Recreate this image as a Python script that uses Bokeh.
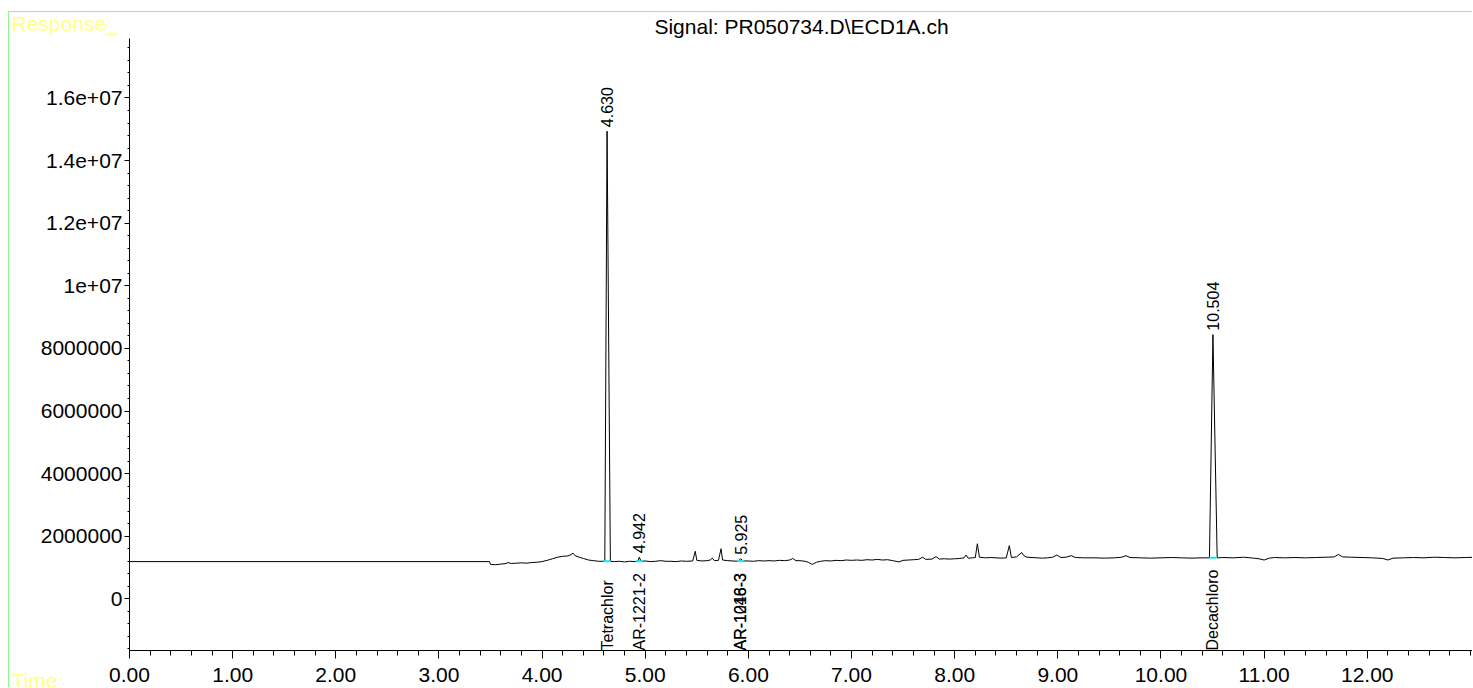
import math
from bokeh.plotting import figure
from bokeh.models import Title, FixedTicker, ColumnDataSource, Range1d
from bokeh.core.properties import value
from bokeh.embed import file_html
from bokeh.resources import INLINE

# ---------------- data ----------------
title_text = "Signal: PR050734.D\\ECD1A.ch"
y_axis_name = "Response_"
x_axis_name = "Time"

time = [0.00, 3.49, 3.50, 3.55, 3.60, 3.65, 3.67, 3.70, 3.75, 3.80, 3.85, 3.90, 3.95,
        4.00, 4.05, 4.10, 4.15, 4.20, 4.25, 4.28, 4.30, 4.32, 4.36, 4.40, 4.45, 4.50,
        4.55, 4.60, 4.608, 4.630, 4.662, 4.70, 4.75, 4.80, 4.85, 4.90, 4.93, 4.942,
        4.96, 5.00, 5.05, 5.10, 5.15, 5.20, 5.25, 5.30, 5.35, 5.40, 5.46, 5.485, 5.50,
        5.55, 5.60, 5.63, 5.65, 5.67, 5.71, 5.735, 5.75, 5.80, 5.85, 5.90, 5.925, 5.95,
        6.00, 6.05, 6.10, 6.15, 6.20, 6.25, 6.30, 6.35, 6.40, 6.43, 6.46, 6.50, 6.55,
        6.58, 6.62, 6.66, 6.70, 6.75, 6.80, 6.85, 6.90, 6.95, 7.00, 7.05, 7.10, 7.15,
        7.20, 7.25, 7.30, 7.35, 7.40, 7.46, 7.50, 7.55, 7.60, 7.65, 7.69, 7.72, 7.78,
        7.82, 7.85, 7.90, 7.95, 8.00, 8.05, 8.09, 8.11, 8.13, 8.17, 8.20, 8.22, 8.24,
        8.30, 8.35, 8.40, 8.45, 8.50, 8.53, 8.55, 8.60, 8.65, 8.67, 8.70, 8.75, 8.80,
        8.85, 8.90, 8.95, 8.99, 9.03, 9.08, 9.13, 9.17, 9.25, 9.35, 9.45, 9.55, 9.62,
        9.66, 9.70, 9.80, 9.90, 10.00, 10.10, 10.20, 10.30, 10.40, 10.47, 10.504,
        10.545, 10.60, 10.70, 10.80, 10.90, 10.95, 11.00, 11.05, 11.10, 11.20, 11.30,
        11.40, 11.50, 11.60, 11.68, 11.72, 11.76, 11.85, 11.95, 12.05, 12.15, 12.20,
        12.25, 12.35, 12.45, 12.55, 12.65, 12.75, 12.85, 12.95, 13.05]

response = [1190000, 1190000, 1100000, 1090000, 1110000, 1130000, 1160000, 1130000,
            1140000, 1150000, 1140000, 1160000, 1170000,
            1190000, 1230000, 1280000, 1330000, 1360000, 1370000, 1410000, 1460000,
            1380000, 1330000, 1290000, 1240000, 1220000,
            1200000, 1200000, 1200000, 14940000, 1200000, 1190000, 1200000, 1180000,
            1200000, 1190000, 1200000, 1330000,
            1200000, 1210000, 1190000, 1200000, 1220000, 1200000, 1200000, 1190000,
            1210000, 1200000, 1210000, 1520000, 1230000,
            1210000, 1220000, 1240000, 1300000, 1220000, 1230000, 1600000, 1240000,
            1220000, 1210000, 1200000, 1280000, 1210000,
            1210000, 1200000, 1220000, 1210000, 1220000, 1210000, 1230000, 1220000,
            1240000, 1290000, 1220000, 1220000, 1200000,
            1170000, 1100000, 1170000, 1200000, 1220000, 1210000, 1230000, 1220000,
            1240000, 1230000, 1240000, 1230000, 1250000,
            1240000, 1260000, 1240000, 1250000, 1220000, 1180000, 1230000, 1240000,
            1250000, 1260000, 1330000, 1260000, 1270000,
            1350000, 1270000, 1280000, 1270000, 1280000, 1290000, 1310000, 1400000,
            1300000, 1310000, 1320000, 1760000, 1330000,
            1310000, 1320000, 1310000, 1300000, 1310000, 1700000, 1320000, 1340000,
            1480000, 1380000, 1330000, 1320000, 1310000,
            1300000, 1310000, 1330000, 1400000, 1320000, 1330000, 1380000, 1320000,
            1310000, 1310000, 1300000, 1310000, 1330000,
            1380000, 1320000, 1310000, 1300000, 1310000, 1320000, 1310000, 1300000,
            1310000, 1310000, 8440000,
            1310000, 1320000, 1310000, 1330000, 1300000, 1280000, 1240000, 1300000,
            1320000, 1310000, 1320000,
            1310000, 1320000, 1330000, 1340000, 1420000, 1340000, 1330000, 1320000,
            1310000, 1290000, 1240000,
            1300000, 1310000, 1320000, 1310000, 1330000, 1320000, 1310000, 1320000,
            1330000]

peak_rt = [4.630, 4.942, 5.925, 10.504]
peak_top = [14940000, 1330000, 1280000, 8440000]
peak_base = [1200000, 1200000, 1210000, 1310000]
peak_labels = ["4.630", "4.942", "5.925", "10.504"]

compound_rt = [4.630, 4.942, 5.925, 5.925, 10.504]
compound_names = ["Tetrachlor", "AR-1221-2", "AR-1016-3", "AR-1248-3", "Decachloro"]

x_ticks = [0, 1, 2, 3, 4, 5, 6, 7, 8, 9, 10, 11, 12]
x_tick_labels = ["0.00", "1.00", "2.00", "3.00", "4.00", "5.00", "6.00", "7.00",
                 "8.00", "9.00", "10.00", "11.00", "12.00"]
y_ticks = [0, 2000000, 4000000, 6000000, 8000000, 10000000, 12000000, 14000000, 16000000]
y_tick_labels = ["0", "2000000", "4000000", "6000000", "8000000", "1e+07", "1.2e+07",
                 "1.4e+07", "1.6e+07"]

x_start, x_end = 0.0, 13.03
y_start, y_end = -1650000, 17900000

# ---------------- figure ----------------
FONT = "Liberation Sans"
W, H = 1464, 676
LEFT = 120
CORNER = "#ffff88"

p = figure(width=W, height=H, output_backend="svg", toolbar_location=None,
           x_range=Range1d(x_start, x_end), y_range=Range1d(y_start, y_end),
           min_border_left=LEFT, min_border_right=0, min_border_top=26,
           min_border_bottom=38)
p.styles = {"border-top": "1px solid #92f592", "border-left": "1px solid #92f592",
            "margin-top": "11px", "margin-left": "8px"}
p.outline_line_color = None
p.background_fill_color = "white"
p.border_fill_color = "white"
p.xgrid.visible = False
p.ygrid.visible = False

# top-left caption (title panel of zero height, text anchored by its standoff)
p.title.text = y_axis_name
p.title.align = "left"
p.title.offset = -(LEFT - 2)
p.title.text_font = FONT
p.title.text_font_size = "21px"
p.title.text_font_style = "normal"
p.title.text_color = CORNER
p.title.standoff = -54
p.title.vertical_align = "top"

# chart title
p.add_layout(Title(text=title_text, align="center", text_font=FONT,
                   text_font_size="21px", text_font_style="normal",
                   text_color="black", standoff=-48, vertical_align="top"), "above")

# axes
xa = p.xaxis[0]
xa.ticker = FixedTicker(ticks=x_ticks,
                        minor_ticks=[i * 0.2 for i in range(0, 66)])
xa.major_label_overrides = {float(t): l for t, l in zip(x_ticks, x_tick_labels)}
xa.major_tick_out = 8
xa.major_tick_in = 0
xa.minor_tick_out = 5
xa.minor_tick_in = 0
xa.major_label_standoff = 9
xa.major_label_text_font = FONT
xa.major_label_text_font_size = "21px"
xa.major_label_text_color = "black"
xa.axis_line_color = "black"
xa.major_tick_line_color = "black"
xa.minor_tick_line_color = "black"

# bottom-left caption
p.add_layout(Title(text=x_axis_name, align="left", offset=-(LEFT - 2),
                   text_font=FONT, text_font_size="21px", text_font_style="normal",
                   text_color=CORNER, standoff=-32, vertical_align="top"), "below")

ya = p.yaxis[0]
ya.ticker = FixedTicker(ticks=y_ticks,
                        minor_ticks=[-1600000 + i * 400000 for i in range(0, 50)])
ya.major_label_overrides = {float(t): l for t, l in zip(y_ticks, y_tick_labels)}
ya.major_tick_out = 5
ya.major_tick_in = 0
ya.minor_tick_out = 2
ya.minor_tick_in = 0
ya.major_label_standoff = 2
ya.major_label_text_font = FONT
ya.major_label_text_font_size = "21px"
ya.major_label_text_color = "black"
ya.axis_line_color = "black"

# trace
p.line(time, response, line_color="black", line_width=1)

# integration baselines (cyan)
half = 0.035
p.segment(x0=[r - half for r in peak_rt], y0=peak_base,
          x1=[r + half for r in peak_rt], y1=peak_base,
          line_color="#19e6f0", line_width=2)

# retention-time labels above peaks
src_pk = ColumnDataSource(dict(x=peak_rt, y=peak_top, t=peak_labels))
p.text(x="x", y="y", text="t", source=src_pk, angle=math.pi / 2,
       text_align="left", text_baseline="middle", y_offset=-4,
       text_font=value(FONT), text_font_size="16px", text_color="black")

# compound names along the bottom
src_cp = ColumnDataSource(dict(x=compound_rt, y=[y_start] * len(compound_rt),
                               t=compound_names))
p.text(x="x", y="y", text="t", source=src_cp, angle=math.pi / 2,
       text_align="left", text_baseline="middle",
       text_font=value(FONT), text_font_size="16px", text_color="black")

open("out.html", "w").write(file_html(p, INLINE))
